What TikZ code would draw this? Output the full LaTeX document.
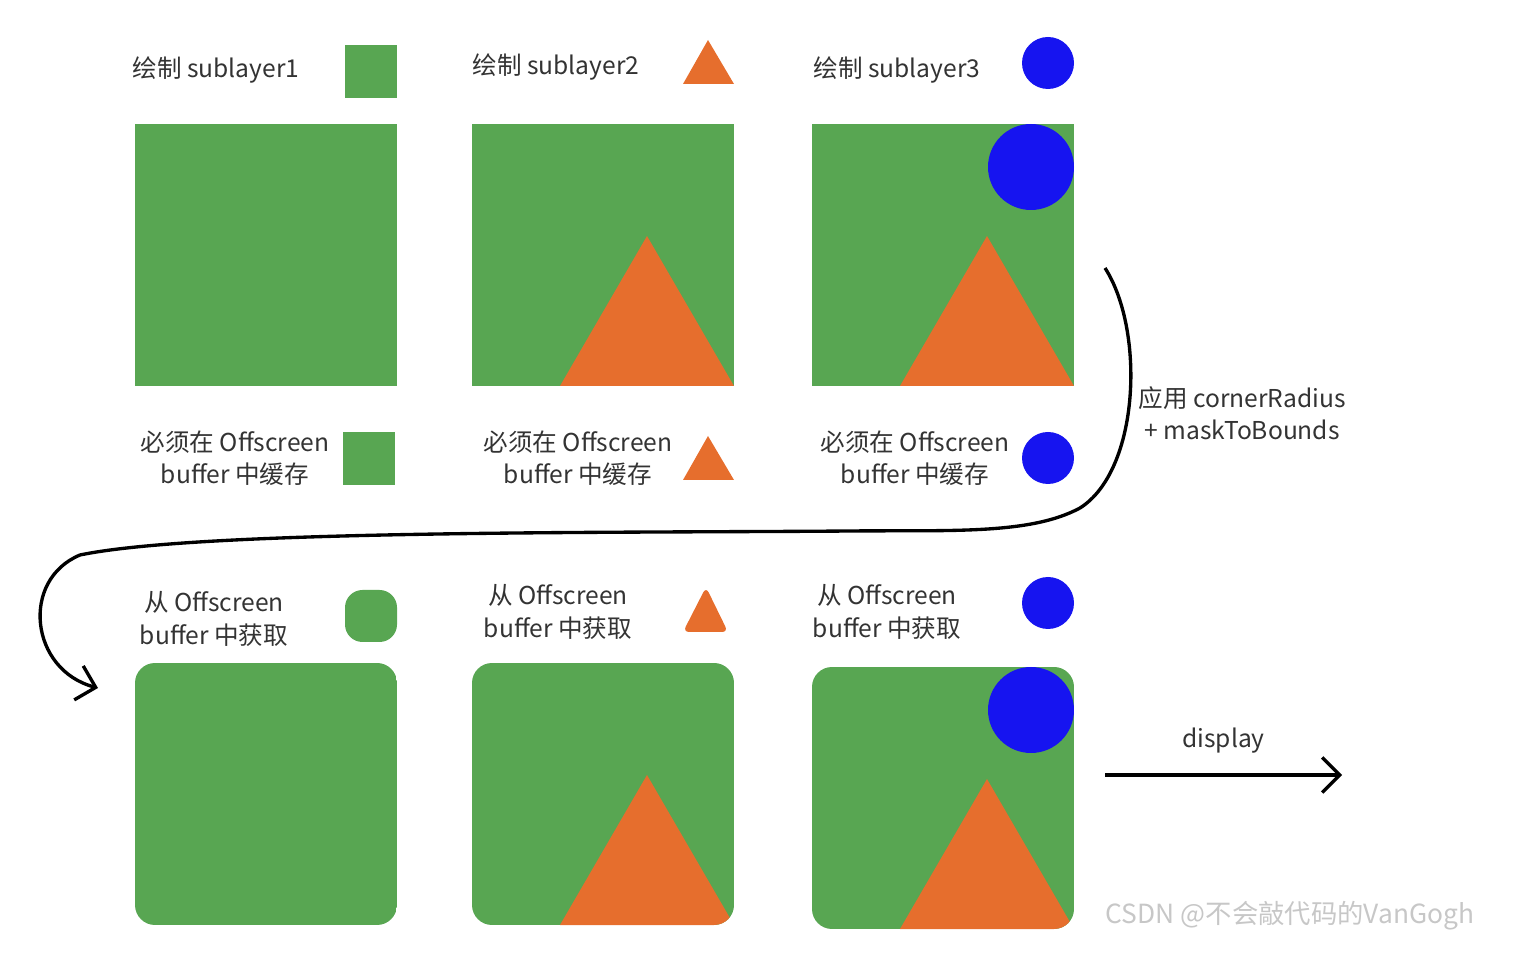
\documentclass[tikz,border=0pt]{standalone}
\usepackage{fontspec}
\setmainfont{Noto Sans CJK SC}
\usetikzlibrary{positioning}
\usetikzlibrary{arrows.meta}
\definecolor{layerGreen}{RGB}{88,166,82}
\definecolor{layerOrange}{RGB}{230,110,45}
\definecolor{layerBlue}{RGB}{22,20,240}
\tikzstyle{stepText} = [font=\fontsize{14}{18.5}\selectfont, align=center, text=black!80]
\tikzstyle{flowLine} = [draw=black, line width=1.9pt, -{Straight Barb[length=10pt,width=20pt]}]
% one green layer box with triangle and circle, #4 = corner radius
\newcommand{\fullLayer}[4]{
  \begin{scope}
    \clip [rounded corners=#4] (#1,#2) rectangle +(262,262);
    \fill [layerGreen] (#1,#2) rectangle +(262,262);
    \ifnum#3>1 \fill [layerOrange] (#1+88,#2+262) -- (#1+175,#2+112) -- (#1+262,#2+262) -- cycle; \fi
    \ifnum#3>2 \fill [layerBlue] (#1+219,#2+43) circle (43); \fi
  \end{scope}
}
\begin{document}
\begin{tikzpicture}[x=0.02cm, y=-0.02cm]
  \useasboundingbox (0,0) rectangle (1536,962);

  % top row: drawing sublayers
  \node [stepText] (drawA) at (216,70) {绘制 sublayer1};
  \node [stepText] (drawB) at (556,67) {绘制 sublayer2};
  \node [stepText] (drawC) at (897,70) {绘制 sublayer3};
  \fill [layerGreen] (345,45) rectangle (397,98);
  \fill [layerOrange] (683,84) -- (708,40) -- (734,84) -- cycle;
  \fill [layerBlue] (1048,63) circle (26);
  \fullLayer{135}{124}{1}{0pt}
  \fullLayer{472}{124}{2}{0pt}
  \fullLayer{812}{124}{3}{0pt}

  % middle row: caching
  \node [stepText] (cacheA) at (235,458) {必须在 Offscreen\\buffer 中缓存};
  \node [stepText] (cacheB) at (578,458) {必须在 Offscreen\\buffer 中缓存};
  \node [stepText] (cacheC) at (915,458) {必须在 Offscreen\\buffer 中缓存};
  \fill [layerGreen] (343,432) rectangle (395,485);
  \fill [layerOrange] (683,480) -- (708,436) -- (734,480) -- cycle;
  \fill [layerBlue] (1048,458) circle (26);

  % corner radius step
  \coordinate (curveStart) at (1105,268);
  \coordinate (curveEnd) at (98,688);
  \draw [flowLine] (curveStart) .. controls (1145,330) and (1140,470) .. (1080,508)
    .. controls (1030,535) and (950,530) .. (850,531)
    .. controls (600,533) and (200,530) .. (80,555)
    .. controls (20,580) and (30,670) .. (curveEnd);
  \node [stepText] (radiusText) at (1242,413) {应用 cornerRadius\\+ maskToBounds};

  % bottom row: reading from buffer
  \node [stepText] (fetchA) at (214,619) {从 Offscreen\\buffer 中获取};
  \node [stepText] (fetchB) at (558,612) {从 Offscreen\\buffer 中获取};
  \node [stepText] (fetchC) at (887,612) {从 Offscreen\\buffer 中获取};
  \fill [layerGreen, rounded corners=0.35cm] (345,590) rectangle (397,642);
  \fill [layerOrange, rounded corners=0.12cm] (683,632) -- (706,587) -- (728,632) -- cycle;
  \fill [layerBlue] (1048,603) circle (26);
  \fullLayer{135}{663}{1}{0.4cm}
  \fullLayer{472}{663}{2}{0.4cm}
  \fullLayer{812}{667}{3}{0.4cm}

  % display
  \coordinate (displayStart) at (1105,775);
  \coordinate (displayEnd) at (1342,775);
  \draw [flowLine] (displayStart) -- (displayEnd) node [stepText, midway, above=8pt] (displayText) {display};

  \node [font=\fontsize{15}{19}\selectfont, text=black!22] (mark) at (1290,916) {CSDN @不会敲代码的VanGogh};
\end{tikzpicture}
\end{document}
